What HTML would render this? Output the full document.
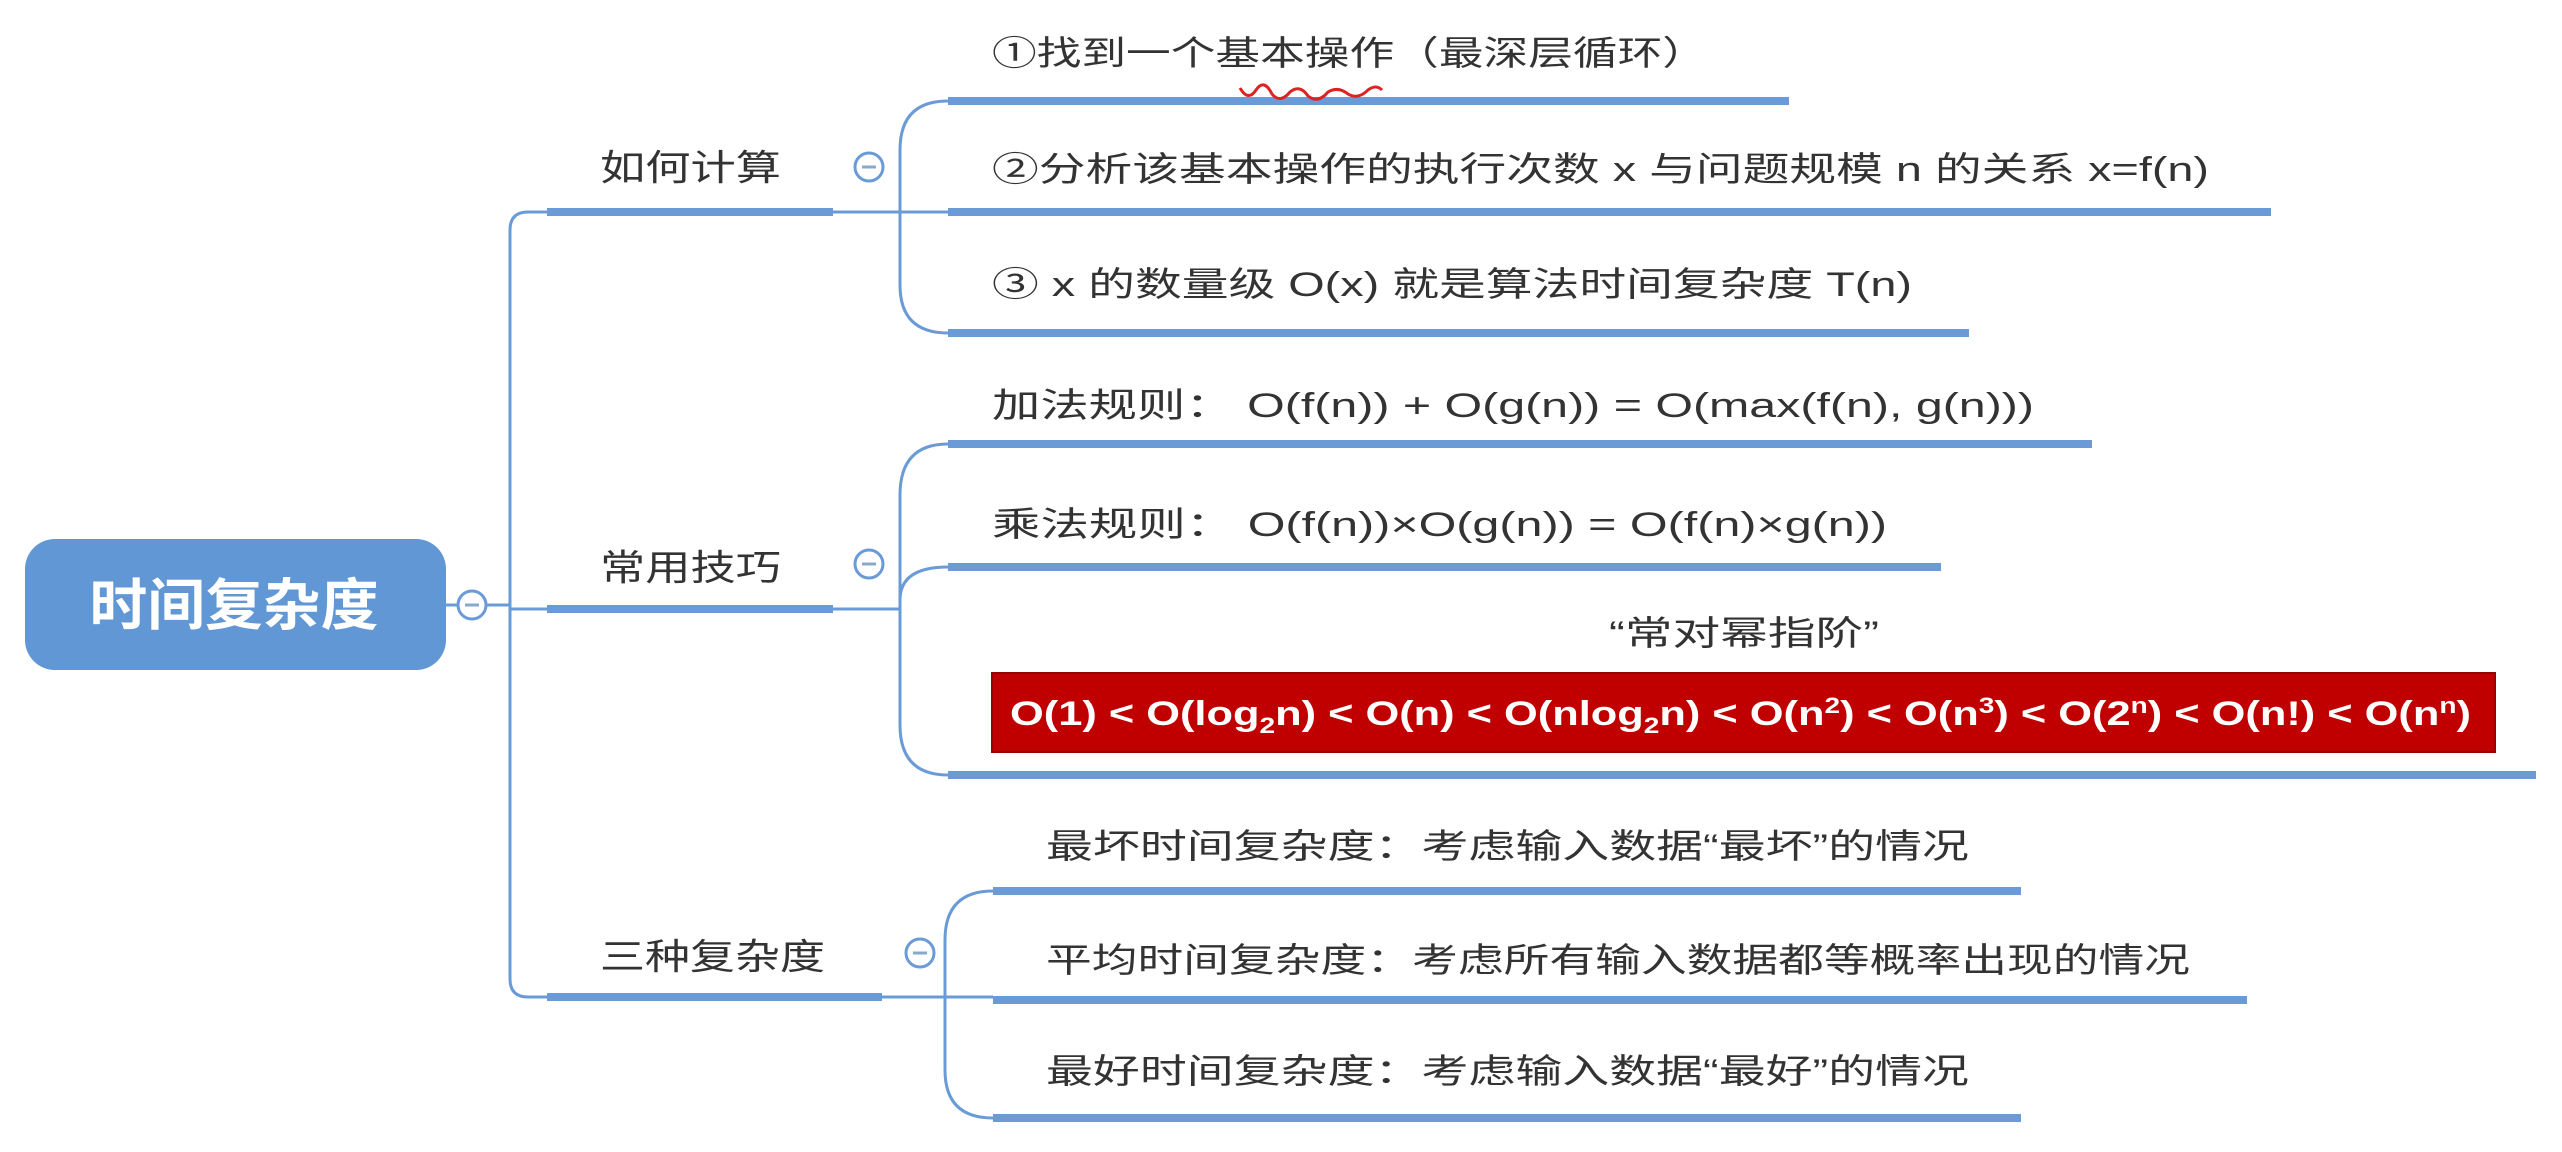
<!DOCTYPE html>
<html><head><meta charset="utf-8"><style>
html,body{margin:0;padding:0;background:#fff;}
svg{display:block;}
text{font-family:"Liberation Sans","Noto Sans CJK SC",sans-serif;fill:#333;}
</style></head><body>
<svg width="2562" height="1152" viewBox="0 0 2562 1152" xmlns="http://www.w3.org/2000/svg">
<rect width="2562" height="1152" fill="#fff"/>
<rect x="25" y="539" width="421" height="131" rx="30" fill="#6097d4"/>
<text x="234" y="625" text-anchor="middle" font-size="56" font-weight="bold" style="fill:#fff" textLength="289" lengthAdjust="spacingAndGlyphs">时间复杂度</text>
<g fill="none" stroke="#6a9bd6">
<line x1="446" y1="605" x2="457" y2="605" stroke-width="3"/>
<circle cx="472" cy="605" r="14" fill="#fff" stroke-width="3"/>
<line x1="486" y1="605" x2="510" y2="605" stroke-width="3"/>
<path d="M547,212 L528,212 Q510,212 510,230 L510,979 Q510,997 528,997 L547,997" stroke-width="3"/>
<line x1="510" y1="609" x2="547" y2="609" stroke-width="3"/>
<line x1="547" y1="212" x2="833" y2="212" stroke-width="8"/>
<line x1="547" y1="609" x2="833" y2="609" stroke-width="8"/>
<line x1="547" y1="997" x2="882" y2="997" stroke-width="8"/>
<line x1="833" y1="212" x2="948" y2="212" stroke-width="3"/>
<line x1="833" y1="609" x2="900" y2="609" stroke-width="3"/>
<line x1="882" y1="997" x2="993" y2="997" stroke-width="3"/>
<circle cx="869" cy="167" r="14" fill="#fff" stroke-width="3"/>
<circle cx="869" cy="564" r="14" fill="#fff" stroke-width="3"/>
<circle cx="920" cy="953" r="14" fill="#fff" stroke-width="3"/>
<path d="M948,101 Q900,101 900,150 L900,285 Q900,333 948,333" stroke-width="3"/>
<path d="M948,444 Q900,444 900,495 L900,725 Q900,775 948,775" stroke-width="3"/>
<path d="M900,609 L900,600 Q900,567 948,567" stroke-width="3"/>
<path d="M993,891 Q945,891 945,940 L945,1070 Q945,1118 993,1118" stroke-width="3"/>
<line x1="948" y1="101" x2="1789" y2="101" stroke-width="8"/>
<line x1="948" y1="212" x2="2271" y2="212" stroke-width="8"/>
<line x1="948" y1="333" x2="1969" y2="333" stroke-width="8"/>
<line x1="948" y1="444" x2="2092" y2="444" stroke-width="8"/>
<line x1="948" y1="567" x2="1941" y2="567" stroke-width="8"/>
<line x1="948" y1="775" x2="2536" y2="775" stroke-width="8"/>
<line x1="993" y1="891" x2="2021" y2="891" stroke-width="8"/>
<line x1="993" y1="1000" x2="2247" y2="1000" stroke-width="8"/>
<line x1="993" y1="1118" x2="2021" y2="1118" stroke-width="8"/>
</g>
<g stroke="#8aa8cc" stroke-width="3">
<line x1="465" y1="605" x2="479" y2="605"/>
<line x1="862" y1="167" x2="876" y2="167"/>
<line x1="862" y1="564" x2="876" y2="564"/>
<line x1="913" y1="953" x2="927" y2="953"/>
</g>
<text x="600" y="180" font-size="36" textLength="181" lengthAdjust="spacingAndGlyphs">如何计算</text>
<text x="600" y="580" font-size="36" textLength="181" lengthAdjust="spacingAndGlyphs">常用技巧</text>
<text x="600" y="969" font-size="36" textLength="225" lengthAdjust="spacingAndGlyphs">三种复杂度</text>
<text x="992" y="65" font-size="34" textLength="715" lengthAdjust="spacingAndGlyphs">①找到一个基本操作（最深层循环）</text>
<path d="M1240,88 q8,14 16,2 q8,-12 16,4 q8,10 18,-2 q10,-8 18,4 q10,8 20,-4 q10,-6 20,2 q10,6 20,-4 q8,-6 14,0" fill="none" stroke="#d22" stroke-width="3"/>
<text x="992" y="181" font-size="34" textLength="1217" lengthAdjust="spacingAndGlyphs">②分析该基本操作的执行次数 x 与问题规模 n 的关系 x=f(n)</text>
<text x="992" y="296" font-size="34" textLength="920" lengthAdjust="spacingAndGlyphs">③ x 的数量级 O(x) 就是算法时间复杂度 T(n)</text>
<text x="992" y="417" font-size="34" textLength="1042" lengthAdjust="spacingAndGlyphs">加法规则：  O(f(n)) + O(g(n)) = O(max(f(n), g(n)))</text>
<text x="992" y="536" font-size="34" textLength="895" lengthAdjust="spacingAndGlyphs">乘法规则：  O(f(n))×O(g(n)) = O(f(n)×g(n))</text>
<text x="1609" y="645" font-size="34" textLength="270" lengthAdjust="spacingAndGlyphs">“常对幂指阶”</text>
<rect x="992" y="673" width="1503" height="79" fill="#c00000" stroke="#9a0000" stroke-width="2"/>
<text x="1010" y="725" font-size="34" font-weight="bold" style="fill:#fff" textLength="1461" lengthAdjust="spacingAndGlyphs">O(1) &lt; O(log<tspan font-size="22" dy="8">2</tspan><tspan dy="-8">n) &lt; O(n) &lt; O(nlog</tspan><tspan font-size="22" dy="8">2</tspan><tspan dy="-8">n) &lt; O(n</tspan><tspan font-size="22" dy="-12">2</tspan><tspan dy="12">) &lt; O(n</tspan><tspan font-size="22" dy="-12">3</tspan><tspan dy="12">) &lt; O(2</tspan><tspan font-size="22" dy="-12">n</tspan><tspan dy="12">) &lt; O(n!) &lt; O(n</tspan><tspan font-size="22" dy="-12">n</tspan><tspan dy="12">)</tspan></text>
<text x="1046" y="858" font-size="34" textLength="923" lengthAdjust="spacingAndGlyphs">最坏时间复杂度：考虑输入数据“最坏”的情况</text>
<text x="1046" y="972" font-size="34" textLength="1144" lengthAdjust="spacingAndGlyphs">平均时间复杂度：考虑所有输入数据都等概率出现的情况</text>
<text x="1046" y="1083" font-size="34" textLength="923" lengthAdjust="spacingAndGlyphs">最好时间复杂度：考虑输入数据“最好”的情况</text>
</svg>
</body></html>
